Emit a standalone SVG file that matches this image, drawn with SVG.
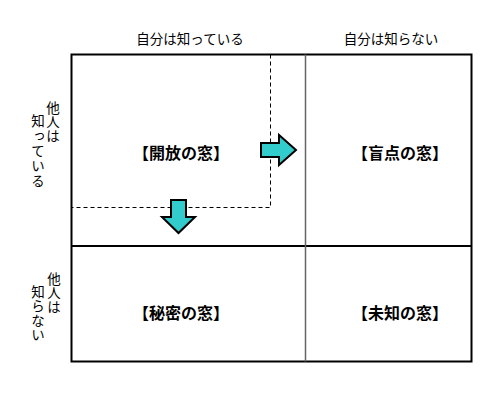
<svg xmlns="http://www.w3.org/2000/svg" width="500" height="400" viewBox="0 0 500 400">
<style>
.t{font-family:"Noto Sans CJK JP","Noto Sans",sans-serif;font-size:13.5px;fill:#000;text-anchor:middle;dominant-baseline:central}
.v{font-family:"Noto Sans CJK JP","Noto Sans",sans-serif;font-size:13.5px;fill:#000;text-anchor:start;writing-mode:vertical-rl;glyph-orientation-vertical:0}
.q{font-family:"Noto Sans CJK JP","Noto Sans",sans-serif;font-size:16px;font-weight:bold;fill:#000;text-anchor:middle;dominant-baseline:central}
.arrow{fill:#33CCCC;stroke:#000;stroke-width:2;stroke-linejoin:miter}
.dash{fill:none;stroke:#000;stroke-width:1;stroke-dasharray:4 3}
</style>
<rect width="500" height="400" fill="#fff"/>
<g id="grid">
<rect x="71.5" y="54.5" width="400" height="307" fill="none" stroke="#000" stroke-width="2"/>
<line x1="71.5" y1="246" x2="471.5" y2="246" stroke="#000" stroke-width="2"/>
<line x1="305.5" y1="54.5" x2="305.5" y2="361.5" stroke="#666" stroke-width="1.5"/>
</g>
<g id="headers">
<text class="t" x="190" y="38">自分は知っている</text>
<text class="t" x="391" y="38">自分は知らない</text>
</g>
<g id="row-labels">
<text class="v" x="53" y="101" letter-spacing="0.5">他人は</text>
<text class="v" x="38" y="114" letter-spacing="1.5">知っている</text>
<text class="v" x="54" y="272" letter-spacing="0.5">他人は</text>
<text class="v" x="38" y="285" letter-spacing="1">知らない</text>
</g>
<g id="open"><text class="q" x="181" y="152">【開放の窓】</text></g>
<g id="blind"><text class="q" x="400" y="152">【盲点の窓】</text></g>
<g id="hidden"><text class="q" x="181" y="312">【秘密の窓】</text></g>
<g id="unknown"><text class="q" x="400" y="312">【未知の窓】</text></g>
<g id="connectors">
<polyline class="dash" points="270.5,54.5 270.5,207.5 71.5,207.5"/>
<polygon class="arrow" points="261,143 279,143 279,135 296,150 279,165 279,157 261,157"/>
<polygon class="arrow" points="171,200 186,200 186,217 195,217 178.5,233 162,217 171,217"/>
</g>
</svg>
